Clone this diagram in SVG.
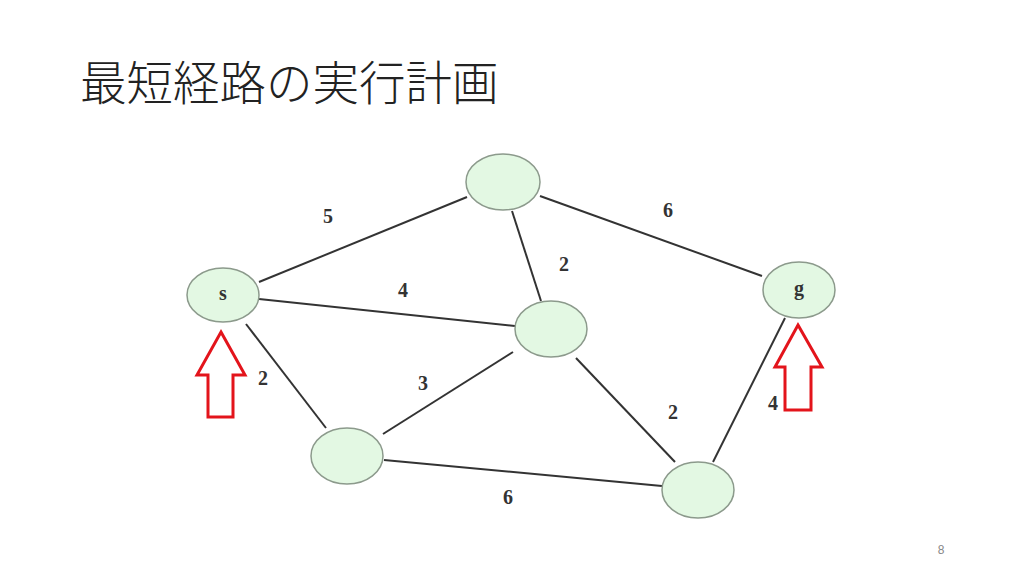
<svg xmlns="http://www.w3.org/2000/svg" width="1024" height="576" viewBox="0 0 1024 576">
<style>
.edge{stroke:#333;stroke-width:2;fill:none}
.node{fill:#e3f8e3;stroke:#8c9a8c;stroke-width:1.5}
.w{font-family:"Liberation Serif",serif;font-weight:bold;font-size:20px;fill:#333;text-anchor:middle}
.nl{font-family:"Liberation Serif",serif;font-weight:bold;font-size:20px;fill:#333;text-anchor:middle}
.arrow{fill:#fff;stroke:#e3141b;stroke-width:3}
</style>
<rect width="1024" height="576" fill="#fff"/>
<text x="80" y="100" font-family="'Noto Sans CJK JP','Noto Sans',sans-serif" font-size="46.5" font-weight="300" fill="#222">最短経路の実行計画</text>
<g id="connectors">
<line class="edge" x1="259" y1="282" x2="467" y2="197"/>
<line class="edge" x1="259" y1="299" x2="515" y2="326"/>
<line class="edge" x1="512" y1="211" x2="541" y2="301"/>
<line class="edge" x1="540" y1="196" x2="762" y2="276"/>
<line class="edge" x1="246" y1="324" x2="326" y2="428"/>
<line class="edge" x1="513" y1="352" x2="383" y2="434"/>
<line class="edge" x1="576" y1="358" x2="675" y2="462"/>
<line class="edge" x1="384" y1="460" x2="662" y2="486"/>
<line class="edge" x1="785" y1="318" x2="713" y2="462"/>
<text class="w" x="328" y="223">5</text>
<text class="w" x="668" y="217">6</text>
<text class="w" x="403" y="297">4</text>
<text class="w" x="564" y="271">2</text>
<text class="w" x="263" y="385">2</text>
<text class="w" x="423" y="390">3</text>
<text class="w" x="673" y="419">2</text>
<text class="w" x="773" y="410">4</text>
<text class="w" x="508" y="504">6</text>
</g>
<g id="node-top"><ellipse class="node" cx="503" cy="182" rx="37" ry="28"/></g>
<g id="node-s"><ellipse class="node" cx="223" cy="295" rx="36" ry="27"/><text class="nl" x="223" y="300">s</text></g>
<g id="node-g"><ellipse class="node" cx="799" cy="290" rx="36" ry="28"/><text class="nl" x="799" y="295">g</text></g>
<g id="node-mid"><ellipse class="node" cx="551" cy="329" rx="36" ry="28"/></g>
<g id="node-bl"><ellipse class="node" cx="347" cy="456" rx="36" ry="28"/></g>
<g id="node-br"><ellipse class="node" cx="698" cy="490" rx="36" ry="28"/></g>
<g id="arrow-s"><polygon class="arrow" points="221,332 245,375 233,375 233,417 208,417 208,375 197,375"/></g>
<g id="arrow-g"><polygon class="arrow" points="798,325 822,367 811,367 811,410 785,410 785,367 775,367"/></g>
<text x="941" y="554" font-family="'Liberation Sans',sans-serif" font-size="12" fill="#888" text-anchor="middle">8</text>
</svg>
